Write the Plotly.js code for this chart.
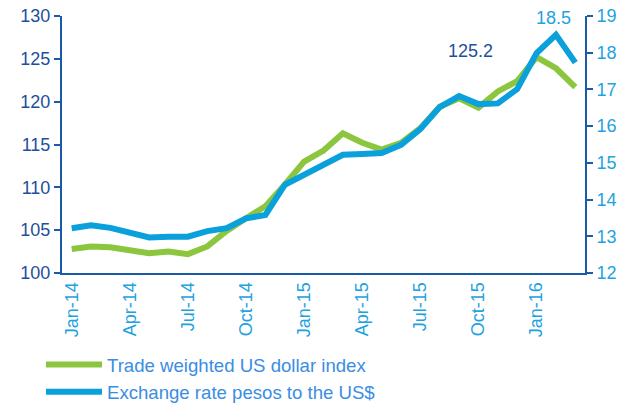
<!DOCTYPE html>
<html>
<head>
<meta charset="utf-8">
<script src="https://cdn.plot.ly/plotly-3.0.1.min.js"></script>
<style>html,body{margin:0;padding:0;background:#fff;}#chart{width:633px;height:406px;}</style>
</head>
<body>
<div id="chart"></div>
<script>
var months = ["Jan-14","Feb-14","Mar-14","Apr-14","May-14","Jun-14","Jul-14","Aug-14","Sep-14","Oct-14","Nov-14","Dec-14",
              "Jan-15","Feb-15","Mar-15","Apr-15","May-15","Jun-15","Jul-15","Aug-15","Sep-15","Oct-15","Nov-15","Dec-15",
              "Jan-16","Feb-16","Mar-16"];
var tradeWeighted = [102.8,103.1,103.0,102.6,102.3,102.5,102.2,103.1,104.9,106.4,107.8,110.3,
                     113.0,114.3,116.3,115.2,114.4,115.2,116.9,119.4,120.4,119.3,121.2,122.4,
                     125.2,123.9,121.7];
var pesoRate = [13.22,13.30,13.23,13.08,12.97,12.99,12.99,13.14,13.22,13.49,13.58,14.40,
                14.66,14.96,15.22,15.24,15.27,15.49,15.92,16.52,16.82,16.60,16.62,17.01,
                17.99,18.49,17.73];
var tickMonths = ["Jan-14","Apr-14","Jul-14","Oct-14","Jan-15","Apr-15","Jul-15","Oct-15","Jan-16"];
var seriesNames = ["Trade weighted US dollar index","Exchange rate pesos to the US$"];

var green = "#8CC63F", blue = "#0AA0DC", axisCol = "#1B5AA8", darkText = "#1E4F9C", lightText = "#1FA2E0", legendText = "#3A8DE3";

var boundaries = [];
for (var b = -0.5; b <= months.length - 0.5; b += 3) boundaries.push(b);

var iPeakT = tradeWeighted.indexOf(Math.max.apply(null, tradeWeighted));
var iPeakP = pesoRate.indexOf(Math.max.apply(null, pesoRate));

var traces = [
  {x: months, y: tradeWeighted, name: seriesNames[0], type: "scatter", mode: "lines",
   line: {color: green, width: 6}, xaxis: "x", yaxis: "y", legendgroup: "a"},
  {x: months, y: pesoRate, name: seriesNames[1], type: "scatter", mode: "lines",
   line: {color: blue, width: 6}, xaxis: "x", yaxis: "y2", legendgroup: "b"}
];

var font = "Liberation Sans, Arial, sans-serif";
var layout = {
  width: 633, height: 406,
  margin: {l: 62, r: 48, t: 16, b: 133, autoexpand: false},
  paper_bgcolor: "#fff", plot_bgcolor: "#fff",
  font: {family: font, size: 18, color: darkText},
  showlegend: true,
  legend: {xref: "container", yref: "container", x: 41/633, y: 60/406, xanchor: "left", yanchor: "top",
           traceorder: "grouped", tracegroupgap: 0,
           itemwidth: 56, font: {family: font, size: 18.6, color: legendText}, bgcolor: "rgba(0,0,0,0)"},
  xaxis: {type: "category", range: [-0.5, months.length - 0.5], tickmode: "array", tickvals: tickMonths, ticktext: tickMonths,
          tickangle: -90, ticks: "", showgrid: false, showline: true, linecolor: axisCol, linewidth: 2,
          tickfont: {family: font, size: 18, color: lightText}, zeroline: false, fixedrange: true},
  xaxis2: {overlaying: "x", anchor: "y", side: "bottom", type: "linear", range: [-0.5, months.length - 0.5],
           tickmode: "array", tickvals: boundaries, showticklabels: false, ticks: "outside", ticklen: 5, tickwidth: 2,
           tickcolor: axisCol, showgrid: true, gridcolor: "#CFE2F7", gridwidth: 2, showline: false, zeroline: false},
  yaxis: {range: [100, 130], dtick: 5, tick0: 100, showline: true, linecolor: axisCol, linewidth: 2,
          ticks: "outside", ticklen: 6, tickwidth: 2, tickcolor: axisCol, showgrid: false, zeroline: false,
          tickfont: {family: font, size: 18, color: darkText}},
  yaxis2: {overlaying: "y", side: "right", range: [12, 19], dtick: 1, tick0: 12, showline: true, linecolor: axisCol, linewidth: 2,
           ticks: "outside", ticklen: 6, tickwidth: 2, tickcolor: axisCol, showgrid: false, zeroline: false,
           tickfont: {family: font, size: 18, color: lightText}},
  annotations: [
    {x: months[iPeakT], y: tradeWeighted[iPeakT], xref: "x", yref: "y", text: tradeWeighted[iPeakT].toFixed(1),
     showarrow: true, arrowcolor: "rgba(0,0,0,0)", ax: -66, ay: -6, font: {family: font, size: 18, color: darkText}},
    {x: months[iPeakP], y: pesoRate[iPeakP], xref: "x", yref: "y2", text: pesoRate[iPeakP].toFixed(1),
     showarrow: true, arrowcolor: "rgba(0,0,0,0)", ax: -2, ay: -17, font: {family: font, size: 18, color: lightText}}
  ]
};

Plotly.newPlot("chart", traces, layout, {displayModeBar: false, staticPlot: true});
</script>
</body>
</html>
